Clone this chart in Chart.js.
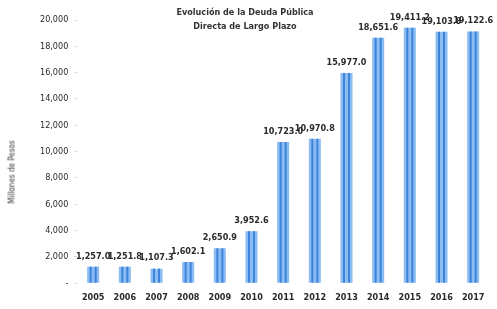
<!DOCTYPE html>
<html>
<head>
<meta charset="utf-8">
<script src="https://cdn.jsdelivr.net/npm/chart.js@4"></script>
<style>
  html, body { margin: 0; padding: 0; background: #fff; }
  #wrap { position: relative; width: 497px; height: 309px; }
  #title {
    position: absolute; left: 170px; top: 5px; width: 150px;
    text-align: center; font: bold 9px 'DejaVu Sans Condensed', sans-serif;
    color: #333; line-height: 14px;
  }
  #ytitle {
    position: absolute; left: 12px; top: 172px; transform: translate(-50%, -50%) rotate(-90deg);
    white-space: nowrap; font: 8px 'DejaVu Sans Condensed', sans-serif; color: #333;
  }
</style>
</head>
<body>
<div id="wrap">
  <canvas id="chart" width="497" height="309"></canvas>
  <div id="title">Evolución de la Deuda Pública<br>Directa de Largo Plazo</div>
  <div id="ytitle">Millones de Pesos</div>
</div>
<script>
// ── Data ──────────────────────────────────────────────────────────────────────
const years = ['2005', '2006', '2007', '2008', '2009', '2010', '2011', '2012', '2013', '2014', '2015', '2016', '2017'];
const deuda = [1257.0, 1251.8, 1107.3, 1602.1, 2650.9, 3952.6, 10723.0, 10970.8, 15977.0, 18651.6, 19411.2, 19103.8, 19122.6];
const yTicks = [0, 2000, 4000, 6000, 8000, 10000, 12000, 14000, 16000, 18000, 20000];

const FONT = "'DejaVu Sans Condensed', sans-serif";
const fmtVal = v => v.toLocaleString('en-US', { minimumFractionDigits: 1, maximumFractionDigits: 1 });

// stripes + value labels on top of each bar
const barDecor = {
    id: 'barDecor',
    afterDatasetsDraw(chart) {
        const { ctx } = chart;
        const meta = chart.getDatasetMeta(0);
        ctx.save();
        meta.data.forEach((bar, i) => {
            const h = bar.base - bar.y;
            ctx.fillStyle = '#3d83da';
            ctx.fillRect(bar.x - 3.5, bar.y, 2, h);
            ctx.fillRect(bar.x + 1.5, bar.y, 2, h);
            ctx.fillStyle = '#2a2a2a';
            ctx.font = 'bold 9px ' + FONT;
            ctx.textAlign = 'center';
            ctx.textBaseline = 'bottom';
            ctx.fillText(fmtVal(deuda[i]), bar.x, bar.y - 6);
        });
        ctx.restore();
    }
};

new Chart(document.getElementById('chart'), {
    type: 'bar',
    data: {
        labels: years,
        datasets: [{
            data: deuda,
            backgroundColor: '#8cbdf2',
            borderWidth: 0,
            barPercentage: 0.38,
            categoryPercentage: 1
        }]
    },
    options: {
        responsive: false,
        animation: false,
        layout: { padding: { top: 20, right: 8, left: 34, bottom: 5 } },
        plugins: { legend: { display: false }, tooltip: { enabled: false } },
        scales: {
            x: {
                grid: { display: false },
                border: { display: false },
                ticks: { color: '#2a2a2a', font: { family: FONT, size: 9, weight: 'bold' }, padding: 1, maxRotation: 0 }
            },
            y: {
                min: 0, max: 20000,
                afterBuildTicks: axis => { axis.ticks = yTicks.map(v => ({ value: v })); },
                grid: { drawOnChartArea: false, drawTicks: true, tickLength: 3, color: '#d8d8d8' },
                border: { display: false },
                ticks: {
                    color: '#2a2a2a', padding: 6,
                    font: { family: FONT, size: 9 },
                    callback: v => v === 0 ? '-' : v.toLocaleString('en-US')
                }
            }
        }
    },
    plugins: [barDecor]
});
</script>
</body>
</html>
